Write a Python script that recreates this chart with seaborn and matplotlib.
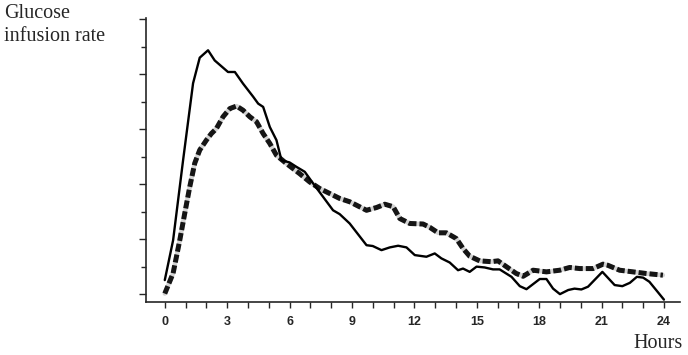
import matplotlib
matplotlib.use("Agg")
import matplotlib.pyplot as plt
import seaborn as sns
import pandas as pd
import numpy as np

# Solid series (hours, rate)
solid_hours = [0.0, 0.4, 0.88, 1.36, 1.68, 2.08, 2.4, 3.04, 3.37, 3.76, 4.25, 4.49, 4.73,
               5.05, 5.37, 5.61, 6.0, 6.33, 6.73, 7.13, 7.61, 8.09, 8.41, 8.89, 9.7, 10.0,
               10.42, 10.82, 11.22, 11.62, 12.02, 12.58, 12.98, 13.3, 13.7, 14.1, 14.34,
               14.66, 14.99, 15.38, 15.78, 16.1, 16.67, 17.07, 17.39, 18.03, 18.35, 18.67,
               19.0, 19.4, 19.7, 20.03, 20.35, 21.04, 21.63, 22.0, 22.36, 22.7, 23.0, 23.3,
               23.7, 24.0]
solid_rate = [0.51, 1.96, 4.87, 7.67, 8.6, 8.87, 8.5, 8.08, 8.08, 7.66, 7.18, 6.93, 6.81,
              6.08, 5.6, 4.87, 4.79, 4.63, 4.45, 4.03, 3.54, 3.05, 2.91, 2.57, 1.78, 1.75,
              1.6, 1.7, 1.76, 1.7, 1.42, 1.36, 1.48, 1.3, 1.15, 0.87, 0.93,
              0.81, 1.0, 0.97, 0.9, 0.9, 0.63, 0.29, 0.18, 0.55, 0.55, 0.2,
              0.0, 0.15, 0.2, 0.17, 0.27, 0.81, 0.33, 0.29, 0.41, 0.63, 0.6, 0.45,
              0.08, -0.2]

# Dashed series (hours, rate)
dashed_hours = [0.0, 0.4, 0.72, 0.96, 1.2, 1.44, 1.68, 2.0, 2.24, 2.48, 2.8, 3.13, 3.45,
                3.76, 4.09, 4.41, 4.73, 5.05, 5.37, 5.85, 6.49, 6.97, 7.45, 7.93, 8.41,
                8.89, 9.7, 10.18, 10.58, 10.98, 11.3, 11.78, 12.42, 12.74, 13.14, 13.54,
                14.02, 14.34, 14.66, 15.14, 15.7, 16.02, 16.42, 16.9, 17.23, 17.71, 18.35,
                18.99, 19.47, 19.95, 20.59, 21.07, 21.3, 21.87, 22.51, 23.15, 23.95]
dashed_rate = [0.02, 0.76, 1.96, 2.94, 3.9, 4.76, 5.24, 5.6, 5.84, 6.02, 6.45, 6.75, 6.84,
               6.69, 6.45, 6.27, 5.84, 5.48, 5.05, 4.75, 4.38, 4.08, 3.84, 3.66, 3.48,
               3.36, 3.05, 3.15, 3.27, 3.18, 2.75, 2.57, 2.55, 2.43, 2.23, 2.23,
               2.02, 1.66, 1.38, 1.21, 1.18, 1.21, 1.0, 0.75, 0.65, 0.87, 0.81,
               0.87, 0.97, 0.93, 0.93, 1.09, 1.05, 0.87, 0.81, 0.75, 0.69]

x_tick_labels = ["0", "3", "6", "9", "12", "15", "18", "21", "24"]

df = pd.concat([
    pd.DataFrame({"hours": solid_hours, "rate": solid_rate, "series": "solid"}),
    pd.DataFrame({"hours": dashed_hours, "rate": dashed_rate, "series": "dashed"}),
], ignore_index=True)

sns.set_style("ticks")
fig = plt.figure(figsize=(6.88, 3.55), dpi=100)
ax = fig.add_axes([0.212, 0.149, 0.776, 0.800])

dashed_df = df[df.series == "dashed"]
# pale grey underlay gives the soft fill seen between dashes
sns.lineplot(data=dashed_df, x="hours", y="rate", ax=ax,
             color="#d2d2d2", linewidth=3.2, sort=False, estimator=None)
sns.lineplot(data=dashed_df, x="hours", y="rate", ax=ax,
             color="#151515", linewidth=3.6, sort=False, estimator=None)
ax.lines[-1].set_dashes([1.6, 0.6])
sns.lineplot(data=df[df.series == "solid"], x="hours", y="rate", ax=ax,
             color="black", linewidth=1.7, sort=False, estimator=None)

ax.set_xlim(-0.91, 24.76)
ax.set_ylim(-0.29, 10.04)
ax.set_xticks(np.arange(0, 25, 3))
ax.set_xticklabels(x_tick_labels, fontfamily="Liberation Sans", fontweight="bold", fontsize=9)
ax.set_xticks(np.arange(0, 25, 1), minor=True)
ax.set_yticks(np.arange(0, 11, 2))
ax.set_yticklabels([])
ax.set_yticks(np.arange(1, 11, 2), minor=True)
ax.tick_params(axis="x", which="both", length=4, width=1, direction="out", pad=6)
ax.tick_params(axis="y", which="major", length=5, width=1, direction="out")
ax.tick_params(axis="y", which="minor", length=3.5, width=1, direction="out")
for s in ["top", "right"]:
    ax.spines[s].set_visible(False)
for s in ["left", "bottom"]:
    ax.spines[s].set_linewidth(1.2)
ax.set_xlabel("")
ax.set_ylabel("")
if ax.get_legend():
    ax.get_legend().remove()

fig.text(0.006, (355 - 18) / 355, "Glucose", fontfamily="Liberation Serif",
         fontsize=14.5, va="baseline", ha="left")
fig.text(0.006, (355 - 41) / 355, "infusion rate", fontfamily="Liberation Serif",
         fontsize=14.5, va="baseline", ha="left")
fig.text(683 / 688, (355 - 348) / 355, "Hours", fontfamily="Liberation Serif", fontsize=14.5,
         va="baseline", ha="right")

fig.savefig("out.png", dpi=100)
